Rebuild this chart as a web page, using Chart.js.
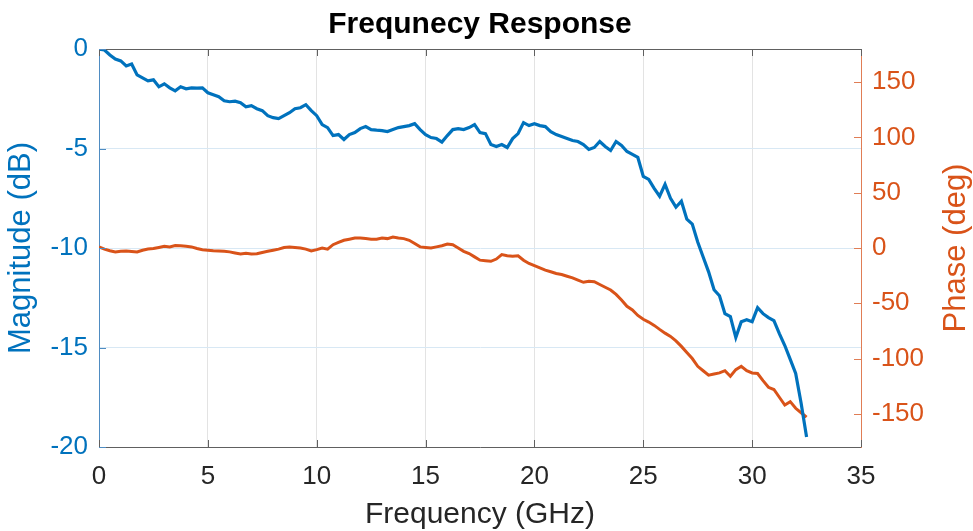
<!DOCTYPE html>
<html>
<head>
<meta charset="utf-8">
<title>Frequnecy Response</title>
<script src="https://cdn.jsdelivr.net/npm/chart.js@4/dist/chart.umd.min.js"></script>
<style>
  html, body { margin: 0; padding: 0; background: #ffffff; }
  #wrap { width: 973px; height: 531px; }
</style>
</head>
<body>
<div id="wrap"><canvas id="chart" width="973" height="531"></canvas></div>
<script>
// Measured sweep, 0 to 32.5 GHz
const freqGHz = [
  0, 0.25, 0.5, 0.75, 1, 1.25, 1.5, 1.75, 2, 2.25, 2.5, 2.75, 3, 3.25, 3.5, 3.75,
  4, 4.25, 4.5, 4.75, 5, 5.25, 5.5, 5.75, 6, 6.25, 6.5, 6.75, 7, 7.25, 7.5, 7.75,
  8, 8.25, 8.5, 8.75, 9, 9.25, 9.5, 9.75, 10, 10.25, 10.5, 10.75, 11, 11.25, 11.5, 11.75,
  12, 12.25, 12.5, 12.75, 13, 13.25, 13.5, 13.75, 14, 14.25, 14.5, 14.75, 15, 15.25, 15.5, 15.75,
  16, 16.25, 16.5, 16.75, 17, 17.25, 17.5, 17.75, 18, 18.25, 18.5, 18.75, 19, 19.25, 19.5, 19.75,
  20, 20.25, 20.5, 20.75, 21, 21.25, 21.5, 21.75, 22, 22.25, 22.5, 22.75, 23, 23.25, 23.5, 23.75,
  24, 24.25, 24.5, 24.75, 25, 25.25, 25.5, 25.75, 26, 26.25, 26.5, 26.75, 27, 27.25, 27.5, 27.75,
  28, 28.25, 28.5, 28.75, 29, 29.25, 29.5, 29.75, 30, 30.25, 30.5, 30.75, 31, 31.25, 31.5, 31.75,
  32, 32.25, 32.5
];

// Magnitude (dB)
const magnitudeDb = [
  0, -0.05, -0.3, -0.5, -0.6, -0.85, -0.75, -1.3, -1.45, -1.6, -1.55, -1.9, -1.75, -1.95, -2.1, -1.9,
  -2.0, -1.95, -1.97, -1.95, -2.2, -2.3, -2.4, -2.6, -2.65, -2.62, -2.7, -2.9, -2.85, -3.0, -3.1, -3.35,
  -3.45, -3.5, -3.35, -3.2, -3.0, -2.95, -2.8, -3.1, -3.35, -3.8, -3.95, -4.35, -4.3, -4.55, -4.3, -4.2,
  -4.0, -3.9, -4.05, -4.08, -4.1, -4.15, -4.05, -3.95, -3.9, -3.85, -3.75, -4.05, -4.3, -4.45, -4.5, -4.68,
  -4.35, -4.05, -4.0, -4.05, -3.95, -3.8, -4.2, -4.25, -4.8, -4.9, -4.8, -4.95, -4.5, -4.25, -3.7, -3.85,
  -3.75, -3.85, -3.9, -4.15, -4.3, -4.4, -4.5, -4.6, -4.65, -4.8, -5.05, -4.95, -4.65, -4.9, -5.1, -4.65,
  -4.85, -5.15, -5.3, -5.45, -6.4, -6.55, -7.0, -7.4, -6.8, -7.5, -7.95, -7.65, -8.55, -8.8, -9.7, -10.45,
  -11.2, -12.1, -12.4, -13.3, -13.45, -14.5, -13.7, -13.6, -13.7, -13.0, -13.3, -13.5, -13.65, -14.3, -14.9, -15.6,
  -16.3, -17.8, -19.5
];

// Phase (deg)
const phaseDeg = [
  1, -1, -2.5, -3.6, -3, -2.7, -3.2, -3.6, -2, -1, -0.5, 0.5, 1.5, 1, 2.2, 2,
  1.5, 1, -0.5, -1.5, -2, -2.5, -2.7, -3, -3.5, -4.5, -5.5, -4.8, -5.5, -5.2, -4, -3,
  -2, -1, 0.5, 1, 0.5, 0, -1, -2.7, -1.5, 0, -1, 3, 5, 7, 8, 9,
  9, 8.5, 8, 8, 9, 8.5, 10, 9, 8.5, 7, 4, 1, 0.5, 0, 1, 2,
  3.6, 3, 0, -3, -5, -8, -11, -11.5, -12, -10, -6, -7, -7.5, -7, -11, -14,
  -16, -18, -20, -21.5, -23, -24, -25.5, -27, -29, -31, -30, -30.5, -33, -35.5, -38, -42,
  -47, -52.7, -56, -61, -64.5, -67, -70, -73.6, -77, -80, -84, -89, -94.5, -100, -107, -111,
  -115, -114, -113, -111, -116, -110, -107, -111, -113, -113.5, -120, -126, -128, -135, -142, -139,
  -145, -149, -153
];

// Tick positions for each axis
const freqTicks = [0, 5, 10, 15, 20, 25, 30, 35];
const magnitudeTicks = [-20, -15, -10, -5, 0];
const phaseTicks = [-150, -100, -50, 0, 50, 100, 150];

const phaseAxisTitle = 'Phase (deg)';

const BLUE = '#0072BD';
const ORANGE = '#D95319';
const FONT = "'Liberation Sans', Arial, Helvetica, sans-serif";
const LABEL_SIZE = 31;

const toPoints = (ys) => freqGHz.map((f, i) => ({ x: f, y: ys[i] }));
const fixTicks = (list) => (scale) => { scale.ticks = list.map(v => ({ value: v })); };

// Box outline, inward-pointing tick marks and the right axis title (read bottom-to-top)
const boxPlugin = {
  id: 'boxTicks',
  afterDraw(chart) {
    const { ctx, chartArea: a, scales } = chart;
    const len = 7;
    ctx.save();
    ctx.lineWidth = 1;
    // top edge
    ctx.strokeStyle = '#606060';
    ctx.beginPath();
    ctx.moveTo(a.left, a.top + 0.5);
    ctx.lineTo(a.right, a.top + 0.5);
    ctx.stroke();
    // x ticks, bottom and top
    ctx.beginPath();
    freqTicks.forEach(v => {
      const px = Math.round(scales.x.getPixelForValue(v)) + 0.5;
      ctx.moveTo(px, a.bottom);
      ctx.lineTo(px, a.bottom - len);
      ctx.moveTo(px, a.top);
      ctx.lineTo(px, a.top + len);
    });
    ctx.stroke();
    // left ticks
    ctx.strokeStyle = '#4f8cc2';
    ctx.beginPath();
    magnitudeTicks.forEach(v => {
      const py = Math.round(scales.y.getPixelForValue(v)) + 0.5;
      ctx.moveTo(a.left, py);
      ctx.lineTo(a.left + len, py);
    });
    ctx.stroke();
    // right ticks
    ctx.strokeStyle = '#e07d55';
    ctx.beginPath();
    phaseTicks.forEach(v => {
      const py = Math.round(scales.y1.getPixelForValue(v)) + 0.5;
      ctx.moveTo(a.right, py);
      ctx.lineTo(a.right - len, py);
    });
    ctx.stroke();
    // right axis title
    const r = scales.y1;
    ctx.translate(r.right - 17, (a.top + a.bottom) / 2);
    ctx.rotate(-Math.PI / 2);
    ctx.fillStyle = ORANGE;
    ctx.font = LABEL_SIZE + 'px ' + FONT;
    ctx.textAlign = 'center';
    ctx.textBaseline = 'middle';
    ctx.fillText(phaseAxisTitle, 0, 0);
    ctx.restore();
  }
};

new Chart(document.getElementById('chart'), {
  type: 'line',
  data: {
    datasets: [
      {
        label: 'Magnitude',
        data: toPoints(magnitudeDb),
        yAxisID: 'y',
        borderColor: BLUE,
        borderWidth: 3.2,
        pointRadius: 0,
        tension: 0,
        fill: false
      },
      {
        label: 'Phase',
        data: toPoints(phaseDeg),
        yAxisID: 'y1',
        borderColor: ORANGE,
        borderWidth: 3,
        pointRadius: 0,
        tension: 0,
        fill: false
      }
    ]
  },
  options: {
    responsive: false,
    animation: false,
    devicePixelRatio: 1,
    layout: { padding: 0 },
    plugins: {
      legend: { display: false },
      tooltip: { enabled: false },
      title: {
        display: true,
        text: 'Frequnecy Response',
        fullSize: false,
        color: '#000000',
        font: { family: FONT, size: 30, weight: 'bold', lineHeight: 1.2 },
        padding: { top: 7, bottom: 6 }
      }
    },
    scales: {
      x: {
        type: 'linear',
        position: 'bottom',
        min: 0,
        max: 35,
        afterBuildTicks: fixTicks(freqTicks),
        afterFit: (s) => { s.height = 84; },
        grid: { color: '#e3e3e3', drawTicks: false, lineWidth: 1 },
        border: { color: '#606060', width: 1 },
        ticks: { color: '#262626', font: { family: FONT, size: 26 }, padding: 14, maxRotation: 0 },
        title: {
          display: true,
          text: 'Frequency (GHz)',
          color: '#262626',
          font: { family: FONT, size: 30, lineHeight: 1 },
          padding: { top: 0, bottom: 1 }
        }
      },
      y: {
        type: 'linear',
        position: 'left',
        min: -20,
        max: 0,
        afterBuildTicks: fixTicks(magnitudeTicks),
        afterFit: (s) => { s.width = 99; },
        grid: { color: '#d8e8f4', drawTicks: false, lineWidth: 1 },
        border: { color: '#4f8cc2', width: 1 },
        ticks: { color: BLUE, font: { family: FONT, size: 26 }, padding: 11 },
        title: {
          display: true,
          text: 'Magnitude (dB)',
          color: BLUE,
          font: { family: FONT, size: LABEL_SIZE, lineHeight: 1 },
          padding: { top: 6, bottom: 0 }
        }
      },
      y1: {
        type: 'linear',
        position: 'right',
        min: -180,
        max: 180,
        afterBuildTicks: fixTicks(phaseTicks),
        afterFit: (s) => { s.width = 112; },
        grid: { display: false, drawTicks: false },
        border: { color: '#e07d55', width: 1 },
        ticks: { color: ORANGE, font: { family: FONT, size: 26 }, padding: 11 },
        title: { display: false }
      }
    }
  },
  plugins: [boxPlugin]
});
</script>
</body>
</html>
